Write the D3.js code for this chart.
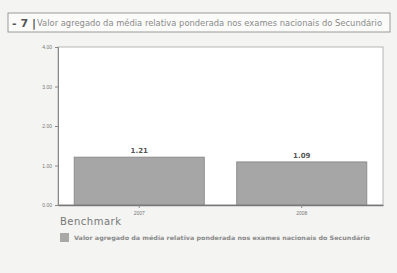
<!DOCTYPE html>
<html>
<head>
<meta charset="utf-8">
<script src="https://cdn.jsdelivr.net/npm/d3@7"></script>
<style>
  body { margin: 0; background: #f4f4f2; }
  svg { display: block; font-family: "DejaVu Sans", sans-serif; }
</style>
</head>
<body>
<svg id="canvas" width="397" height="273"></svg>
<script>
  let years = ['2007', '2008']
  let values = [1.21, 1.09]
  let valueLabels = ['1.21', '1.09']
  let yTicks = [0, 1, 2, 3, 4]
  let titleText = 'Valor agregado da média relativa ponderada nos exames nacionais do Secundário'

  let canvas = d3.select('#canvas')

  // header box
  canvas.append('rect')
    .attr('x', 8).attr('y', 13).attr('width', 382).attr('height', 19)
    .attr('fill', '#fbfbfa').attr('stroke', '#9a9a9a').attr('stroke-width', 1)
  canvas.append('text')
    .attr('x', 12).attr('y', 27)
    .attr('font-size', 11).attr('font-weight', 'bold').attr('fill', '#555')
    .text('- 7 |')
  canvas.append('text')
    .attr('x', 37).attr('y', 26)
    .attr('font-size', 8).attr('fill', '#8a8a8a')
    .attr('textLength', 345).attr('lengthAdjust', 'spacingAndGlyphs')
    .text(titleText)

  let margin = { left: 58, right: 14, top: 47, bottom: 68 }
  let width = 397 - margin.left - margin.right
  let height = 273 - margin.top - margin.bottom

  let g = canvas.append('g').attr('transform', `translate(${margin.left},${margin.top})`)

  let x = d3.scaleBand().domain(years).range([0, width]).paddingInner(0.2).paddingOuter(0.1)
  let y = d3.scaleLinear().domain([0, 4]).range([height, 0])

  // frame
  g.append('rect')
    .attr('x', 0).attr('y', 0).attr('width', width).attr('height', height)
    .attr('fill', '#fff').attr('stroke', '#b5b5b5')

  g.selectAll('.bar')
    .data(values)
    .enter()
    .append('rect')
    .attr('class', 'bar')
    .attr('x', (d, i) => x(years[i]))
    .attr('y', d => y(d))
    .attr('width', x.bandwidth())
    .attr('height', d => height - y(d))
    .attr('fill', '#a6a6a6')
    .attr('stroke', '#8c8c8c')

  g.selectAll('.val')
    .data(values)
    .enter()
    .append('text')
    .attr('x', (d, i) => x(years[i]) + x.bandwidth() / 2)
    .attr('y', d => y(d) - 4)
    .attr('text-anchor', 'middle')
    .attr('font-size', 7).attr('font-weight', 'bold').attr('fill', '#555')
    .text((d, i) => valueLabels[i])

  let yAxis = g.append('g')
    .call(d3.axisLeft(y).tickValues(yTicks).tickFormat(d3.format('.2f')).tickSize(3))
  yAxis.selectAll('text').attr('font-size', 5).attr('fill', '#777')
  yAxis.selectAll('line, path').attr('stroke', '#888')

  let xAxis = g.append('g')
    .attr('transform', `translate(0,${height})`)
    .call(d3.axisBottom(x).tickSize(3).tickSizeOuter(0))
  xAxis.selectAll('text').attr('font-size', 5).attr('fill', '#777')
  xAxis.selectAll('line').attr('stroke', '#888')
  xAxis.select('path').attr('stroke', '#777').attr('stroke-width', 1.5)

  canvas.append('text')
    .attr('x', 60).attr('y', 225)
    .attr('font-size', 10).attr('fill', '#777').attr('letter-spacing', 0.5)
    .text('Benchmark')

  canvas.append('rect')
    .attr('x', 60).attr('y', 233).attr('width', 9).attr('height', 9)
    .attr('fill', '#a8a8a8')
  canvas.append('text')
    .attr('x', 74).attr('y', 240)
    .attr('font-size', 6).attr('font-weight', 'bold').attr('fill', '#8a8a8a')
    .attr('textLength', 296).attr('lengthAdjust', 'spacingAndGlyphs')
    .text(titleText)
</script>
</body>
</html>
